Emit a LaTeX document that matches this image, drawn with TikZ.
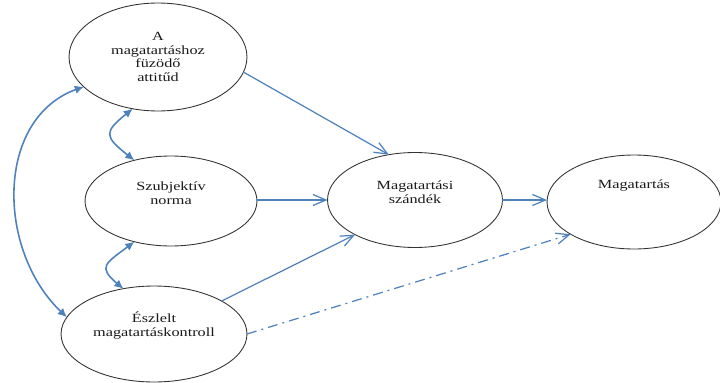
\documentclass[tikz,border=0pt]{standalone}
\usepackage{fontspec}
\setmainfont{Liberation Serif}[FakeStretch=1.3]
\usetikzlibrary{shapes.geometric,arrows.meta,bending}

\definecolor{linkblue}{HTML}{4F81BD}

\tikzset{
  construct/.style={ellipse, draw=black!80, line width=0.5pt, inner sep=0pt, outer sep=0pt},
  caption/.style={align=center, font=\fontsize{7.1}{7.9}\selectfont, text=black!90, inner sep=0pt},
  effect/.style={draw=linkblue, line width=0.7pt, -{Straight Barb[length=2.6mm,width=2.2mm]}},
  weak/.style={effect, dash pattern=on 2mm off 1mm on 0.4mm off 1mm},
  corr/.style={draw=linkblue, line width=0.9pt, {Latex[length=1.8mm,width=1.7mm,bend]}-{Latex[length=1.8mm,width=1.7mm,bend]}}
}

\begin{document}
\begin{tikzpicture}[x=0.02cm,y=0.02cm]
  \useasboundingbox (0,0) rectangle (720,-382);

  % constructs
  \node[construct, minimum width=3.56cm, minimum height=2.16cm] (att) at (158,-57) {};
  \node[construct, minimum width=3.44cm, minimum height=1.8cm] (norm) at (171,-201) {};
  \node[construct, minimum width=3.72cm, minimum height=1.92cm] (pbc) at (154,-334) {};
  \node[construct, minimum width=3.5cm, minimum height=1.9cm] (intent) at (415,-200) {};
  \node[construct, minimum width=3.48cm, minimum height=1.88cm] (behav) at (634,-202) {};

  \node[caption] (att-t) at (158,-57) {A\\magatartáshoz\\füzödő\\attitűd};
  \node[caption] (norm-t) at (171,-193.5) {Szubjektív\\norma};
  \node[caption] (pbc-t) at (154,-325.5) {Észlelt\\magatartáskontroll};
  \node[caption] (intent-t) at (415,-192.5) {Magatartási\\szándék};
  \node[caption] (behav-t) at (634,-186) {Magatartás};

  % paths
  \draw[effect] (att.-10) -- (intent.120);
  \draw[effect] (norm.east |- intent.west) -- (intent.west);
  \draw[effect] (pbc.26) -- (intent.210);
  \draw[effect] (intent.east) -- (intent.east -| behav.west);
  \draw[weak] (pbc.east) -- (behav.207);

  % correlations
  \draw[corr] (att.-116) to[out=218, in=142, looseness=2] (norm.132);
  \draw[corr] (norm.-132) to[out=218, in=142, looseness=2] (pbc.124);
  \draw[corr] (att.-158) to[out=195, in=140, looseness=1.05] (pbc.169);
\end{tikzpicture}
\end{document}
